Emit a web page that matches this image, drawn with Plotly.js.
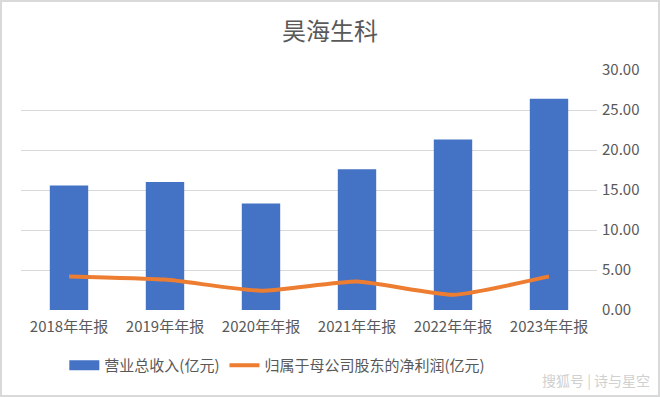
<!DOCTYPE html>
<html><head><meta charset="utf-8">
<script src="https://cdn.plot.ly/plotly-3.0.1.min.js"></script>
<style>html,body{margin:0;padding:0;background:#fff}#c{width:660px;height:397px;box-sizing:border-box;border:2px solid #d9d9d9}</style>
</head><body><div id="c"></div>
<script>
const categories = ["2018年年报","2019年年报","2020年年报","2021年年报","2022年年报","2023年年报"];
const revenue = [15.55, 16.0, 13.3, 17.6, 21.3, 26.4];
const netProfit = [4.2, 3.8, 2.4, 3.55, 1.9, 4.2];
const yTicks = [0,5,10,15,20,25,30];
const yTickText = yTicks.map(v => v.toFixed(2));
const revenueName = '营业总收入(亿元)';
const profitName = '归属于母公司股东的净利润(亿元)';

const font = "'Noto Sans CJK SC', 'Noto Sans', sans-serif";
const data = [
  {type:'scatter', mode:'lines', x:[null], y:[null], name:revenueName, line:{color:'#4472C4', width:11}, hoverinfo:'skip'},
  {type:'bar', x:categories, y:revenue, name:revenueName, marker:{color:'#4472C4'}, width:0.4, showlegend:false},
  {type:'scatter', mode:'lines', x:categories, y:netProfit, name:profitName, line:{color:'#ED7D31', width:4, shape:'spline', smoothing:0.5}}
];
const layout = {
  width:656, height:393,
  margin:{l:19, r:61, t:68, b:85},
  paper_bgcolor:'#fff', plot_bgcolor:'#fff',
  font:{family:font, color:'#595959', size:15},
  title:{text:'昊海生科', font:{size:24, color:'#595959', family:font}, x:0.5, xanchor:'center', yref:'container', y:0.925, yanchor:'middle'},
  xaxis:{type:'category', showgrid:false, zeroline:false, showline:false, ticks:'', ticklabelstandoff:6, tickfont:{size:15, color:'#595959'}},
  yaxis:{side:'right', range:[0,30], tickvals:yTicks, ticktext:yTickText, showgrid:true, gridcolor:'#d9d9d9', gridwidth:1, zeroline:false, showline:false, ticks:'', ticklabelstandoff:4, tickfont:{size:15, color:'#595959'}},
  legend:{orientation:'h', x:0.445, xanchor:'center', yref:'container', y:0.075, yanchor:'middle', font:{size:15, color:'#595959'}, traceorder:'normal'},
  showlegend:true,
  annotations:[{text:'搜狐号 | 诗与星空', xref:'paper', yref:'paper', x:1.095, y:-0.29, xanchor:'right', yanchor:'middle', showarrow:false, font:{size:14, color:'#d0d0d0', family:font}}]
};
Plotly.newPlot('c', data, layout, {displayModeBar:false, staticPlot:true});
</script></body></html>
